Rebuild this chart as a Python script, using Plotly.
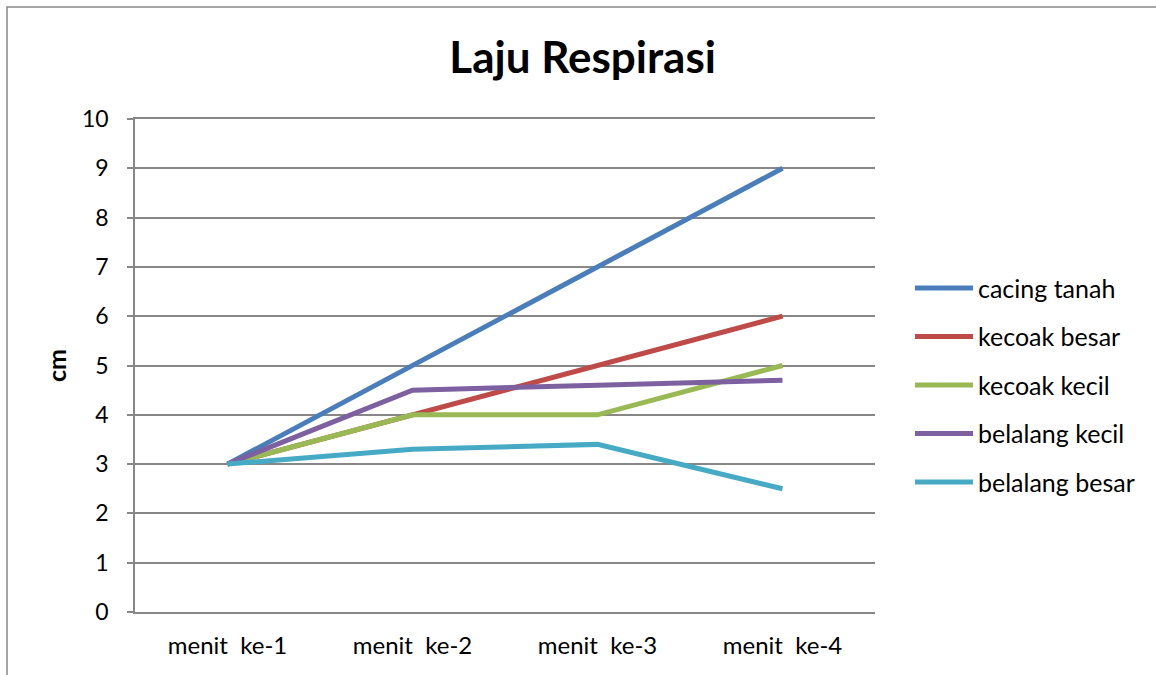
import plotly.graph_objects as go

categories = ["menit  ke-1", "menit  ke-2", "menit  ke-3", "menit  ke-4"]
cacing_tanah = [3, 5, 7, 9]
kecoak_besar = [3, 4, 5, 6]
kecoak_kecil = [3, 4, 4, 5]
belalang_kecil = [3, 4.5, 4.6, 4.7]
belalang_besar = [3, 3.3, 3.4, 2.5]

series = [
    ("cacing tanah", cacing_tanah, "#4A7EBB"),
    ("kecoak besar", kecoak_besar, "#BE4B48"),
    ("kecoak kecil", kecoak_kecil, "#98B954"),
    ("belalang kecil", belalang_kecil, "#7D60A0"),
    ("belalang besar", belalang_besar, "#46AAC5"),
]

FONT = "Lato"
fig = go.Figure()
for name, vals, col in series:
    fig.add_trace(go.Scatter(x=categories, y=vals, name=name, mode="lines",
                             legendgroup=name,
                             line=dict(color=col, width=5)))

fig.update_layout(
    width=1156, height=675,
    margin=dict(l=135, r=281, t=119, b=63),
    paper_bgcolor="white", plot_bgcolor="white",
    font=dict(family=FONT, color="black"),
    title=dict(text="<b>Laju Respirasi</b>", x=0.504, xanchor="center",
               y=0.914, yanchor="middle", font=dict(size=44, family=FONT, color="black")),
    showlegend=True,
    legend=dict(x=(910 - 135) / 740, xanchor="left", y=0.46, yanchor="middle",
                font=dict(size=25, family=FONT, color="black"),
                tracegroupgap=13, itemwidth=58, bgcolor="rgba(0,0,0,0)"),
)
fig.update_xaxes(type="category", range=[-0.5, 3.5], showgrid=False,
                 showline=True, linecolor="#878787", linewidth=1.5, mirror=True,
                 ticks="", tickfont=dict(size=24, family=FONT), ticklabelstandoff=11)
fig.update_yaxes(range=[0, 10], dtick=1, showgrid=True, gridcolor="#878787", gridwidth=1.5,
                 showline=True, linecolor="#878787", linewidth=1.5,
                 ticks="outside", ticklen=6, tickcolor="#878787", tickwidth=1.5,
                 tickfont=dict(size=23, family=FONT), zeroline=False, ticklabelstandoff=14,
                 title=dict(text="<b>cm</b>", font=dict(size=25, family=FONT), standoff=8))
fig.add_shape(type="rect", xref="paper", yref="paper",
              x0=(7 - 135) / 740, x1=(1170 - 135) / 740,
              y0=(612 - 690) / 493, y1=(612 - 7) / 493,
              line=dict(color="#878787", width=1.5), fillcolor="rgba(0,0,0,0)", layer="below")
fig.write_html("out.html", config={"displayModeBar": False},
               post_script="document.body.style.margin='0';document.body.style.overflow='hidden';")
